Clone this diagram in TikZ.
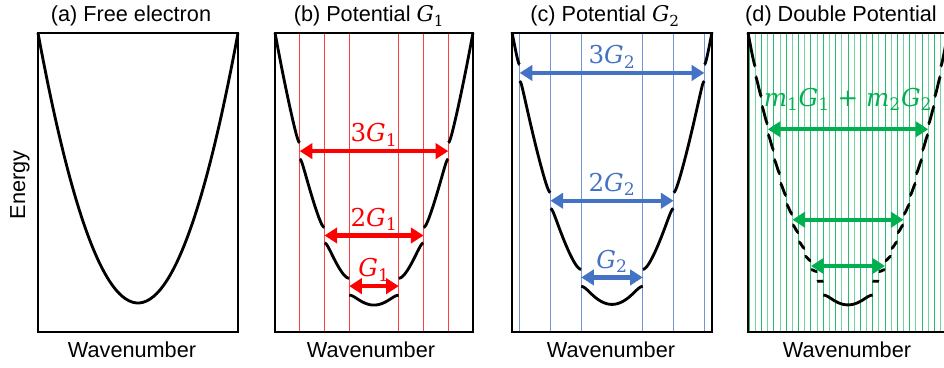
\documentclass[tikz,border=0pt]{standalone}
\usepackage{fontspec}
\setmainfont{Liberation Sans}
\newfontfamily\labfont{DejaVu Serif}
\newcommand{\gvec}[2]{\textit{#1}\textsubscript{#2}}
\usetikzlibrary{arrows.meta}
\definecolor{potred}{RGB}{255,0,0}
\definecolor{potblue}{RGB}{68,114,196}
\definecolor{potgreen}{RGB}{0,176,80}
\begin{document}
\begin{tikzpicture}[x=0.3mm,y=-0.3mm,
declare function={
  up(\x,\a,\v)=sqrt((2*\a*(\x-\a))*(2*\a*(\x-\a))+\v*\v)-2*\a*(\x-\a);
  dn(\x,\a,\v)=-sqrt((2*\a*(\x-\a))*(2*\a*(\x-\a))+\v*\v)-2*\a*(\x-\a);},
frame/.style={line width=0.6mm},
band/.style={line width=0.85mm},
zone/.style={line width=0.3mm},
gap/.style={line width=1.3mm,{Triangle[length=3.8mm,width=4.6mm]}-{Triangle[length=3.8mm,width=4.6mm]}},
txt/.style={font=\fontsize{18.5}{22}\selectfont},
lbl/.style={font=\labfont\fontsize{21}{25}\selectfont,above=0.8mm,inner sep=0pt}]
\useasboundingbox (0,0) rectangle (944,368);

% (a) free electron
\begin{scope}[shift={(138,303)},x=30mm,y=81mm]
\draw[band] plot[domain=-1:1,samples=60,smooth] (\x,{\x*\x});
\end{scope}
\draw[frame] (38,33) rectangle (238,332);

% (b) potential G1
\begin{scope}[shift={(374,303)},x=29.7mm,y=81mm]
\foreach \k in {-0.75,-0.5,-0.25,0.25,0.5,0.75}
  \draw[zone,potred!75] (\k,1) -- (\k,-0.1074);
\draw[band] plot[domain=-0.25:0.25,samples=30,smooth] (\x,{\x*\x+dn(\x,0.25,0.0315)+dn(0-\x,0.25,0.0315)});
\foreach \ka/\kb/\ke/\va/\vb in {0.25/0.5/0.5/0.0315/0.0315,0.5/0.75/0.75/0.0315/0.0315,0.75/2/1/0.0315/0}{
  \draw[band] plot[domain=\ka:\ke,samples=30,smooth] (\x,{\x*\x+up(\x,\ka,\va)+dn(\x,\kb,\vb)});
  \draw[band] plot[domain=\ka:\ke,samples=30,smooth] (-\x,{\x*\x+up(\x,\ka,\va)+dn(\x,\kb,\vb)});
}
\coordinate (b1l) at (-0.25,0.0625); \coordinate (b1r) at (0.25,0.0625);
\coordinate (b2l) at (-0.5,0.25);    \coordinate (b2r) at (0.5,0.25);
\coordinate (b3l) at (-0.75,0.5625); \coordinate (b3r) at (0.75,0.5625);
\draw[gap,potred] (b1l) -- node[lbl,potred]{\gvec{G}{1}} (b1r);
\draw[gap,potred] (b2l) -- node[lbl,potred]{2\gvec{G}{1}} (b2r);
\draw[gap,potred] (b3l) -- node[lbl,potred]{3\gvec{G}{1}} (b3r);
\end{scope}
\draw[frame] (275,33) rectangle (473,332);

% (c) potential G2
\begin{scope}[shift={(612,303)},x=30mm,y=81mm]
\foreach \k in {-0.9231,-0.6154,-0.3077,0.3077,0.6154,0.9231}
  \draw[zone,potblue!75] (\k,1) -- (\k,-0.1074);
\draw[band] plot[domain=-0.3077:0.3077,samples=30,smooth] (\x,{\x*\x+dn(\x,0.3077,0.0315)+dn(0-\x,0.3077,0.0315)});
\foreach \ka/\kb/\ke/\va/\vb in {0.3077/0.6154/0.6154/0.0315/0.0315,0.6154/0.9231/0.9231/0.0315/0.0315,0.9231/2/1/0.0315/0}{
  \draw[band] plot[domain=\ka:\ke,samples=30,smooth] (\x,{\x*\x+up(\x,\ka,\va)+dn(\x,\kb,\vb)});
  \draw[band] plot[domain=\ka:\ke,samples=30,smooth] (-\x,{\x*\x+up(\x,\ka,\va)+dn(\x,\kb,\vb)});
}
\coordinate (c1l) at (-0.3077,0.0947); \coordinate (c1r) at (0.3077,0.0947);
\coordinate (c2l) at (-0.6154,0.3787); \coordinate (c2r) at (0.6154,0.3787);
\coordinate (c3l) at (-0.9231,0.8521); \coordinate (c3r) at (0.9231,0.8521);
\draw[gap,potblue] (c1l) -- node[lbl,potblue]{\gvec{G}{2}} (c1r);
\draw[gap,potblue] (c2l) -- node[lbl,potblue]{2\gvec{G}{2}} (c2r);
\draw[gap,potblue] (c3l) -- node[lbl,potblue]{3\gvec{G}{2}} (c3r);
\end{scope}
\draw[frame] (512,33) rectangle (712,332);

% (d) double potential
\begin{scope}[shift={(848,303)},x=30mm,y=81mm]
\foreach \k in {-16,...,16}{
  \pgfmathtruncatemacro\gs{mod(abs(\k),2)==0 ? 85 : 55}
  \draw[zone,potgreen!\gs] ({\k*0.0617},1) -- ({\k*0.0617},-0.1074);
}
\draw[band] plot[domain=-0.2468:0.2468,samples=30,smooth] (\x,{\x*\x+dn(\x,0.2468,0.03)+dn(0-\x,0.2468,0.03)});
\foreach \ka/\kb/\va/\vb in {4/5/0.03/0.028,5/6/0.028/0.024,6/7/0.024/0.02,7/8/0.02/0.022,8/9/0.022/0.024,9/10/0.024/0.02,
  10/11/0.02/0.02,11/12/0.02/0.02,12/13/0.02/0.022,13/14/0.022/0.02,14/15/0.02/0.02,15/32/0.02/0}{
  \pgfmathsetmacro\xa{\ka*0.0617}
  \pgfmathsetmacro\xb{\kb*0.0617}
  \pgfmathsetmacro\xe{min(\xb,1)}
  \draw[band] plot[domain=\xa:\xe,samples=20,smooth] (\x,{\x*\x+up(\x,\xa,\va)+dn(\x,\xb,\vb)});
  \draw[band] plot[domain=\xa:\xe,samples=20,smooth] (-\x,{\x*\x+up(\x,\xa,\va)+dn(\x,\xb,\vb)});
}
\coordinate (d1l) at (-0.3702,0.1370); \coordinate (d1r) at (0.3702,0.1370);
\coordinate (d2l) at (-0.5553,0.3084); \coordinate (d2r) at (0.5553,0.3084);
\coordinate (d3l) at (-0.8021,0.6434); \coordinate (d3r) at (0.8021,0.6434);
\draw[gap,potgreen] (d1l) -- (d1r);
\draw[gap,potgreen] (d2l) -- (d2r);
\draw[gap,potgreen] (d3l) -- node[lbl,potgreen,above=4.2mm,font=\labfont\fontsize{21}{25}\selectfont]{\gvec{m}{1}\gvec{G}{1} + \gvec{m}{2}\gvec{G}{2}} (d3r);
\end{scope}
\draw[frame] (748,33) rectangle (948,332);

\node[txt,anchor=base] (ta) at (131,22) {(a) Free electron};
\node[txt,anchor=base] (tb) at (369,22) {(b) Potential {\labfont\gvec{G}{1}}};
\node[txt,anchor=base] (tc) at (605,22) {(c) Potential {\labfont\gvec{G}{2}}};
\node[txt,anchor=base west,inner sep=0pt] (td) at (745,22) {(d) Double Potential};
\node[txt,anchor=base] (wa) at (132,358) {Wavenumber};
\node[txt,anchor=base] (wb) at (371,358) {Wavenumber};
\node[txt,anchor=base] (wc) at (611,358) {Wavenumber};
\node[txt,anchor=base] (wd) at (847,358) {Wavenumber};
\node[txt,rotate=90] (energy) at (20,185) {Energy};
\end{tikzpicture}
\end{document}
